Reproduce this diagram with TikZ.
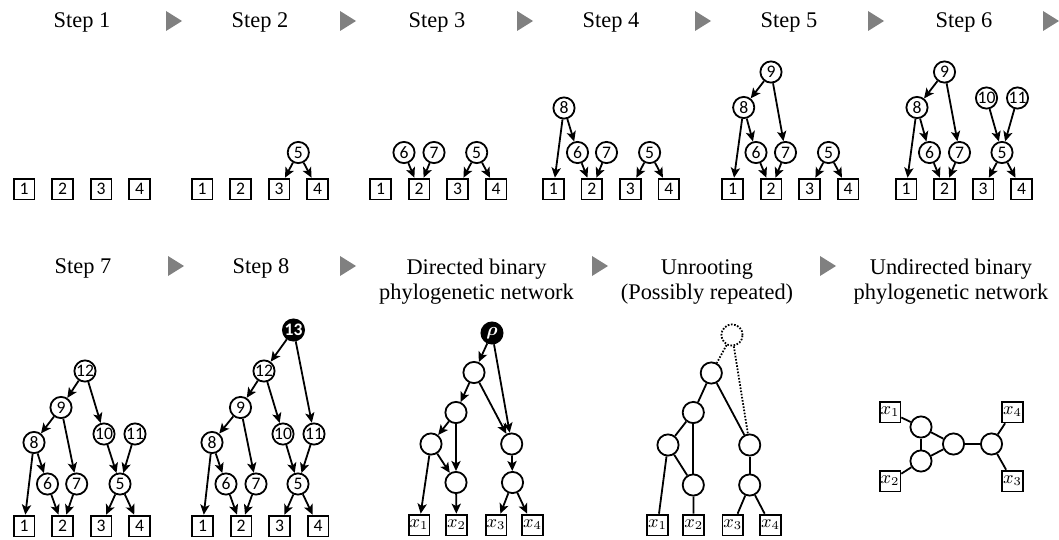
\documentclass[tikz,border=0pt]{standalone}
\usepackage{fontspec}
\usepackage{amsmath}
\setmainfont{Liberation Serif}
\newfontfamily\carlito{Carlito}
\usetikzlibrary{arrows.meta}

\begin{document}
\begin{tikzpicture}
  [x=0.5pt,y=-0.5pt,line width=0.9pt,
   taxon/.style={draw,rectangle,minimum size=10.4pt,inner sep=0pt,font=\carlito\fontsize{8.8}{9}\selectfont},
   xtaxon/.style={taxon,font=\fontsize{9}{9}\selectfont},
   vert/.style={draw,circle,minimum size=10.6pt,inner sep=0pt,font=\carlito\fontsize{8.8}{9}\selectfont},
   rootv/.style={vert,fill=black,text=white,font=\carlito\bfseries\fontsize{8.8}{9}\selectfont},
   ghost/.style={dash pattern=on 0.8pt off 0.8pt},
   arc/.style={-{Stealth[length=5pt,width=4.6pt,inset=1.2pt]}},
   title/.style={anchor=base,align=center,font=\fontsize{11.2}{12.5}\selectfont},
   nextstep/.style={fill=black!50}]
  \useasboundingbox (0,0) rectangle (1059,540);

  % titles and step markers
  \foreach \x/\t in {82/1,260/2,437/3,611/4,789/5,964/6}
    \node[title] (t\t) at (\x,28) {Step \t};
  \node[title] (t7) at (83,273) {Step 7};
  \node[title] (t8) at (261,273) {Step 8};
  \node[title] (tdir) at (476.5,299) {Directed binary\\phylogenetic network};
  \node[title] (tunr) at (707,299) {Unrooting\\(Possibly repeated)};
  \node[title] (tund) at (951,299) {Undirected binary\\phylogenetic network};
  \foreach \x/\y in {166/11,340/11,517/11,695/11,868/11,1043/11,168/256,340/256,592/256,820/256}
    \fill[nextstep] (\x,\y) -- ++(16,10) -- ++(-16,10) -- cycle;

  % step 1
  \begin{scope}[name prefix=s1-]
    \foreach \k in {1,...,4}
      \node[taxon] (l\k) at ({24+(\k-1)*38.5},189) {\k};
  \end{scope}

  % step 2
  \begin{scope}[name prefix=s2-]
    \foreach \k in {1,...,4}
      \node[taxon] (l\k) at ({202+(\k-1)*38.5},189) {\k};
    \node[vert] (v5) at (298.3,152.5) {5};
    \foreach \from/\to in {v5/l3,v5/l4}
      \draw[arc] (\from) -- (\to);
  \end{scope}

  % step 3
  \begin{scope}[name prefix=s3-]
    \foreach \k in {1,...,4}
      \node[taxon] (l\k) at ({380.5+(\k-1)*38.5},189) {\k};
    \node[vert] (v5) at (476.7,152.5) {5};
    \node[vert] (v6) at (404,152.5) {6};
    \node[vert] (v7) at (434,152.5) {7};
    \foreach \from/\to in {v5/l3,v5/l4,v6/l2,v7/l2}
      \draw[arc] (\from) -- (\to);
  \end{scope}

  % step 4
  \begin{scope}[name prefix=s4-]
    \foreach \k in {1,...,4}
      \node[taxon] (l\k) at ({553.4+(\k-1)*38.5},189) {\k};
    \node[vert] (v5) at (649.6,152.5) {5};
    \node[vert] (v6) at (577.5,152.5) {6};
    \node[vert] (v7) at (606.5,152.5) {7};
    \node[vert] (v8) at (564,108) {8};
    \foreach \from/\to in {v5/l3,v5/l4,v6/l2,v7/l2,v8/l1,v8/v6}
      \draw[arc] (\from) -- (\to);
  \end{scope}

  % step 5
  \begin{scope}[name prefix=s5-]
    \foreach \k in {1,...,4}
      \node[taxon] (l\k) at ({732.5+(\k-1)*38.5},189) {\k};
    \node[vert] (v5) at (828.5,152.5) {5};
    \node[vert] (v6) at (756,152.5) {6};
    \node[vert] (v7) at (785.5,152.5) {7};
    \node[vert] (v8) at (743.7,107.5) {8};
    \node[vert] (v9) at (771,72) {9};
    \foreach \from/\to in {v5/l3,v5/l4,v6/l2,v7/l2,v8/l1,v8/v6,v9/v8,v9/v7}
      \draw[arc] (\from) -- (\to);
  \end{scope}

  % step 6
  \begin{scope}[name prefix=s6-]
    \foreach \k in {1,...,4}
      \node[taxon] (l\k) at ({906+(\k-1)*38.5},189) {\k};
    \node[vert] (v5) at (1002,152.5) {5};
    \node[vert] (v6) at (929.5,152.5) {6};
    \node[vert] (v7) at (959.5,152.5) {7};
    \node[vert] (v8) at (917,107.5) {8};
    \node[vert] (v9) at (944.5,72) {9};
    \node[vert] (v10) at (986.5,98) {10};
    \node[vert] (v11) at (1017.5,98) {11};
    \foreach \from/\to in {v5/l3,v5/l4,v6/l2,v7/l2,v8/l1,v8/v6,v9/v8,v9/v7,v10/v5,v11/v5}
      \draw[arc] (\from) -- (\to);
  \end{scope}

  % step 7
  \begin{scope}[name prefix=s7-]
    \foreach \k in {1,...,4}
      \node[taxon] (l\k) at ({24+(\k-1)*38.5},526) {\k};
    \node[vert] (v5) at (120,484) {5};
    \node[vert] (v6) at (47.5,484) {6};
    \node[vert] (v7) at (76.7,484) {7};
    \node[vert] (v8) at (34,442.5) {8};
    \node[vert] (v9) at (61,407.5) {9};
    \node[vert] (v10) at (104,434) {10};
    \node[vert] (v11) at (135,434) {11};
    \node[vert] (v12) at (85,371) {12};
    \foreach \from/\to in {v5/l3,v5/l4,v6/l2,v7/l2,v8/l1,v8/v6,v9/v8,v9/v7,v10/v5,v11/v5,v12/v9,v12/v10}
      \draw[arc] (\from) -- (\to);
  \end{scope}

  % step 8
  \begin{scope}[name prefix=s8-]
    \foreach \k in {1,...,4}
      \node[taxon] (l\k) at ({202.5+(\k-1)*38.5},526) {\k};
    \node[vert] (v5) at (298,484) {5};
    \node[vert] (v6) at (226,484) {6};
    \node[vert] (v7) at (256,484) {7};
    \node[vert] (v8) at (212,442.5) {8};
    \node[vert] (v9) at (240.5,407.5) {9};
    \node[vert] (v10) at (283,434) {10};
    \node[vert] (v11) at (314,434) {11};
    \node[vert] (v12) at (264,371) {12};
    \node[rootv] (v13) at (293.5,330) {13};
    \foreach \from/\to in {v5/l3,v5/l4,v6/l2,v7/l2,v8/l1,v8/v6,v9/v8,v9/v7,v10/v5,v11/v5,v12/v9,v12/v10,v13/v12,v13/v11}
      \draw[arc] (\from) -- (\to);
  \end{scope}

  % directed network
  \begin{scope}[name prefix=dn-]
    \foreach \x [count=\k] in {419,456.5,496,532.5}
      \node[xtaxon] (l\k) at (\x,525) {$x_\k$};
    \node[rootv] (r) at (492,333) {$\boldsymbol{\rho}$};
    \node[vert] (a) at (474,372.5) {};
    \node[vert] (b) at (456,412.5) {};
    \node[vert] (c) at (431,444) {};
    \node[vert] (d) at (511.7,444) {};
    \node[vert] (e) at (456,482.5) {};
    \node[vert] (f) at (512.5,482.5) {};
    \foreach \from/\to in {r/a,r/d,a/b,a/d,b/c,b/e,c/l1,c/e,e/l2,d/f,f/l3,f/l4}
      \draw[arc] (\from) -- (\to);
  \end{scope}

  % unrooting
  \begin{scope}[name prefix=ur-]
    \foreach \x [count=\k] in {657.5,693.7,732.8,770.5}
      \node[xtaxon] (l\k) at (\x,525) {$x_\k$};
    \node[vert,ghost] (r) at (732,335) {};
    \node[vert] (a) at (711.3,373) {};
    \node[vert] (b) at (693.3,412.5) {};
    \node[vert] (c) at (668,445) {};
    \node[vert] (d) at (749.7,445) {};
    \node[vert] (e) at (693.3,485) {};
    \node[vert] (f) at (749.7,485) {};
    \foreach \from/\to in {r/a,r/d}
      \draw[ghost] (\from) -- (\to);
    \foreach \from/\to in {a/b,a/d,b/c,b/e,c/l1,c/e,e/l2,d/f,f/l3,f/l4}
      \draw (\from) -- (\to);
  \end{scope}

  % undirected network
  \begin{scope}[name prefix=ud-]
    \node[xtaxon] (l1) at (890,412) {$x_1$};
    \node[xtaxon] (l2) at (890,481) {$x_2$};
    \node[xtaxon] (l3) at (1012.5,481) {$x_3$};
    \node[xtaxon] (l4) at (1012.5,412) {$x_4$};
    \node[vert] (a) at (921,427) {};
    \node[vert] (b) at (921,461) {};
    \node[vert] (c) at (953.5,444) {};
    \node[vert] (d) at (991.5,444) {};
    \foreach \from/\to in {l1/a,a/b,a/c,b/c,b/l2,c/d,d/l3,d/l4}
      \draw (\from) -- (\to);
  \end{scope}
\end{tikzpicture}
\end{document}
